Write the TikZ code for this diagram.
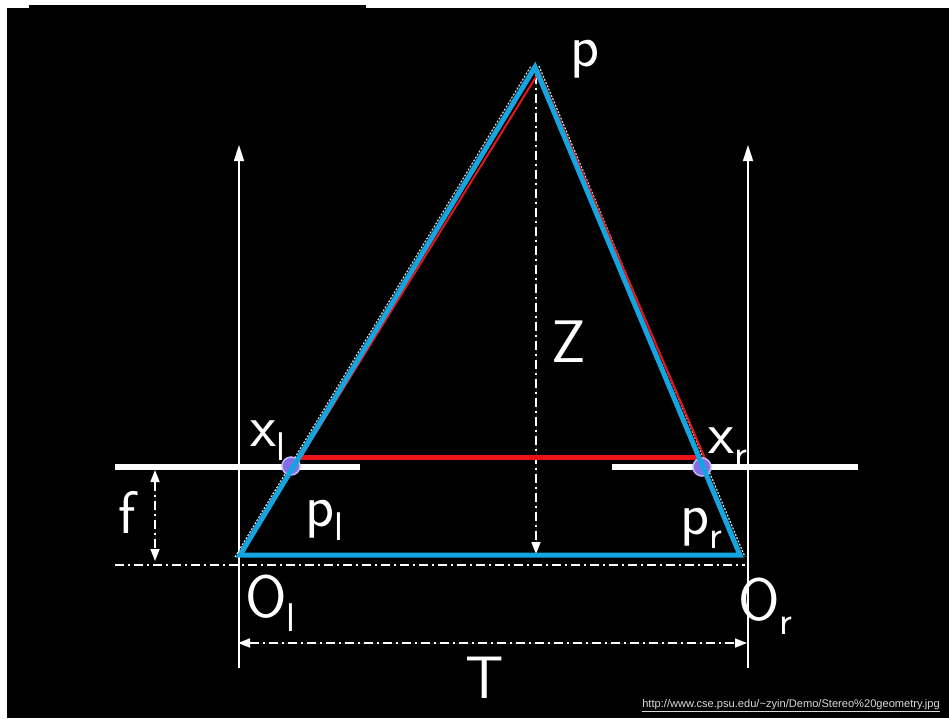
\documentclass[tikz,border=0pt]{standalone}
\usepackage{fontspec}
\newfontfamily\urlfont{Liberation Sans}
\usetikzlibrary{arrows.meta}
\definecolor{triblue}{RGB}{20,165,225}
\definecolor{trired}{RGB}{235,20,20}
\definecolor{dotfill}{RGB}{130,110,230}
\definecolor{dotedge}{RGB}{195,185,245}
\newcommand\sbs[1]{\raisebox{-14pt}{\fontsize{40}{40}\selectfont #1}}
\begin{document}
\begin{tikzpicture}[x=1pt,y=-1pt,
  axis/.style={white, line width=1.6pt, -{Triangle[width=10pt,length=16pt]}},
  plane/.style={white, line width=6pt},
  dimline/.style={white, line width=1.6pt, dash pattern=on 9pt off 4pt on 2pt off 4pt},
  dimarrow/.style={{Triangle[width=9pt,length=12pt]}-{Triangle[width=9pt,length=12pt]}},
  ray/.style={white!85!black, line width=1.2pt, dash pattern=on 2pt off 1.5pt},
  lbl/.style={text=white, font=\fontsize{60}{60}\selectfont\sffamily, inner sep=0pt},
  imgdot/.style={circle, fill=dotfill, draw=dotedge, line width=1.5pt, minimum size=18pt, inner sep=0pt}]
\useasboundingbox (0,0) rectangle (949,718);
\fill[white] (0,0) rectangle (949,718);
\fill[black] (7,8) rectangle (949,718);
\fill[black] (29,5) rectangle (366,8);

% named points
\coordinate (P) at (535,67);
\coordinate (Ol) at (240,555);
\coordinate (Or) at (740,555);
\coordinate (PlA) at (115,467);
\coordinate (PlB) at (360,467);
\coordinate (PrA) at (612,467);
\coordinate (PrB) at (858,467);
\coordinate (AxLb) at (239,668);
\coordinate (AxLt) at (239,145);
\coordinate (AxRb) at (748,668);
\coordinate (AxRt) at (748,145);
\coordinate (BaseA) at (115,565);
\coordinate (BaseB) at (745,565);
\coordinate (Ft) at (155,470);
\coordinate (Fb) at (155,561);
\coordinate (Zt) at (536,75);
\coordinate (Zb) at (536,554);
\coordinate (Tl) at (238,643);
\coordinate (Tr) at (747,643);
\coordinate (RedA) at (300,457);
\coordinate (RedB) at (700,457);
\coordinate (RlA) at (539,72);
\coordinate (RlB) at (296,465);
\coordinate (RrB) at (707,463);
\coordinate (WlA) at (235,557);
\coordinate (WlB) at (531,66);
\coordinate (WrA) at (539,66);
\coordinate (WrB) at (745,557);

% image planes
\draw[plane] (PlA) -- (PlB);
\draw[plane] (PrA) -- (PrB);
% optical axes
\draw[axis] (AxLb) -- (AxLt);
\draw[axis] (AxRb) -- (AxRt);
% dimension lines
\draw[dimline] (BaseA) -- (BaseB);
\draw[dimline, dimarrow, fill=white] (Ft) -- (Fb);
\draw[dimline, -{Triangle[width=9pt,length=12pt]}, fill=white] (Zt) -- (Zb);
\draw[dimline, dimarrow, fill=white] (Tl) -- (Tr);
% white dotted rays
\draw[ray] (WlA) -- (WlB);
\draw[ray] (WrA) -- (WrB);
% red triangle
\draw[trired, line width=2pt] (RlB) -- (RlA) -- (RrB);
\draw[trired, line width=5pt] (RedA) -- (RedB);
% image points
\node[imgdot] (xl) at (291,466) {};
\node[imgdot] (xr) at (702,467) {};
% blue triangle
\draw[triblue, line width=5pt, line join=miter] (Ol) -- (P) -- (Or) -- cycle;

% labels
\node[lbl, anchor=base west] (lp) at (570,66) {p};
\node[lbl, anchor=base west] (lz) at (551,362) {Z};
\node[lbl, anchor=base west] (lf) at (118,533) {f};
\node[lbl, anchor=base] (lt) at (485,698) {T};
\node[lbl, anchor=base west] (lxl) at (250,446) {x\sbs{l}};
\node[lbl, anchor=base west] (lxr) at (708,453) {x\sbs{r}};
\node[lbl, anchor=base west] (lpl) at (305,526) {p\sbs{l}};
\node[lbl, anchor=base west] (lpr) at (680,534) {p\sbs{r}};
\node[lbl, anchor=base west] (lol) at (245,617) {O\sbs{l}};
\node[lbl, anchor=base west] (lor) at (738,620) {O\sbs{r}};
\node[anchor=base east, inner sep=0pt, text=white!85!black, font=\urlfont\fontsize{11.1}{12}\selectfont] (url) at (940,707) {\underline{http://www.cse.psu.edu/\textasciitilde zyin/Demo/Stereo\%20geometry.jpg}};
\end{tikzpicture}
\end{document}
